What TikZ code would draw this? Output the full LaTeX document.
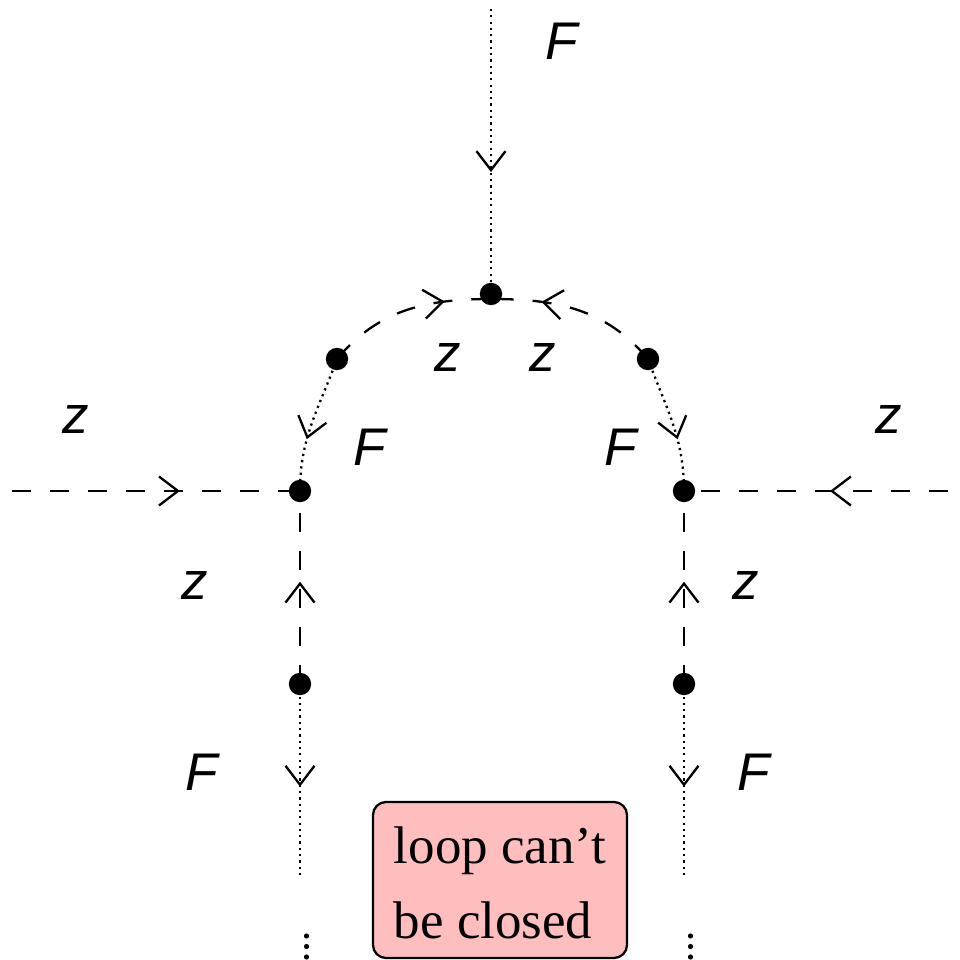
\documentclass[tikz,border=0pt]{standalone}
\usepackage{fontspec}
\setmainfont{Liberation Serif}
\newfontfamily\lsans{Liberation Sans}
\usetikzlibrary{arrows.meta,decorations.markings}
\definecolor{boxpink}{RGB}{255,190,190}
\begin{document}
\begin{tikzpicture}[x=0.5pt,y=0.5pt,
  ln/.style={line width=1.15pt},
  dsh/.style={ln, dash pattern=on 9.5pt off 9.5pt},
  dtt/.style={ln, dash pattern=on 1.1pt off 2.05pt},
  vtx/.style={circle, fill=black, inner sep=0pt, minimum size=11.2pt},
  lbl/.style={font=\fontsize{26.5}{30}\selectfont\lsans\itshape, inner sep=0pt},
  marr/.style={postaction={decorate, decoration={markings, mark=at position #1 with {\arrow{Straight Barb[length=9.5pt,width=14.5pt,line width=1.15pt]}}}}}
]
\useasboundingbox (0,0) rectangle (960,960);
% vertices
\node[vtx] (T) at (491,666) {};
\coordinate (Ta) at (491,661);
\node[vtx] (A1) at (337,601) {};
\node[vtx] (A2) at (648,601) {};
\node[vtx] (L) at (300,469) {};
\node[vtx] (R) at (684,469) {};
\node[vtx] (B1) at (300,276) {};
\node[vtx] (B2) at (684,276) {};
\coordinate (top) at (491,951);
\coordinate (inL) at (12,469);
\coordinate (inR) at (948,469);
\coordinate (endL) at (300,83);
\coordinate (endR) at (684,83);
% connectors
\draw[dtt, marr=0.572] (top) -- (T.center);
\draw[dsh, marr=0.583] (inL) -- (L.center);
\draw[dsh, marr=0.447] (inR) -- (R.center);
\draw[dsh, marr=0.73] (A1.center) to[out=50,in=180] (Ta);
\draw[dsh, marr=0.71] (A2.center) to[out=130,in=0] (Ta);
\draw[dtt, marr=0.62] (A1.center) to[out=250,in=90] (L.center);
\draw[dtt, marr=0.62] (A2.center) to[out=290,in=90] (R.center);
\draw[dsh, marr=0.53] (B1.center) -- (L.center);
\draw[dsh, marr=0.53] (B2.center) -- (R.center);
\draw[dtt, marr=0.532] (B1.center) -- (endL);
\draw[dtt, marr=0.532] (B2.center) -- (endR);
% labels
\node[lbl] (lF1) at (562,919) {F};
\node[lbl] (lz1) at (448,602) {z};
\node[lbl] (lz2) at (543,602) {z};
\node[lbl] (lF2) at (370,513) {F};
\node[lbl] (lF3) at (621,513) {F};
\node[lbl] (lz3) at (76,540) {z};
\node[lbl] (lz4) at (889,540) {z};
\node[lbl] (lz5) at (195,374) {z};
\node[lbl] (lz6) at (746,374) {z};
\node[lbl] (lF4) at (202,188) {F};
\node[lbl] (lF5) at (754,188) {F};
% box
\node[draw, fill=boxpink, rounded corners=6.5pt, line width=1.15pt, minimum width=127pt, minimum height=78pt, align=left, inner sep=0pt, font=\fontsize{26.5}{37.5}\selectfont] (box) at (500,80) {\rule{0pt}{21.5pt}loop can’t\\be closed};
% continuation dots
\foreach \yy in {24,13.5,3} {
  \fill (306.5,\yy) circle (1.3pt);
  \fill (690.5,\yy) circle (1.3pt);
}
\end{tikzpicture}
\end{document}
